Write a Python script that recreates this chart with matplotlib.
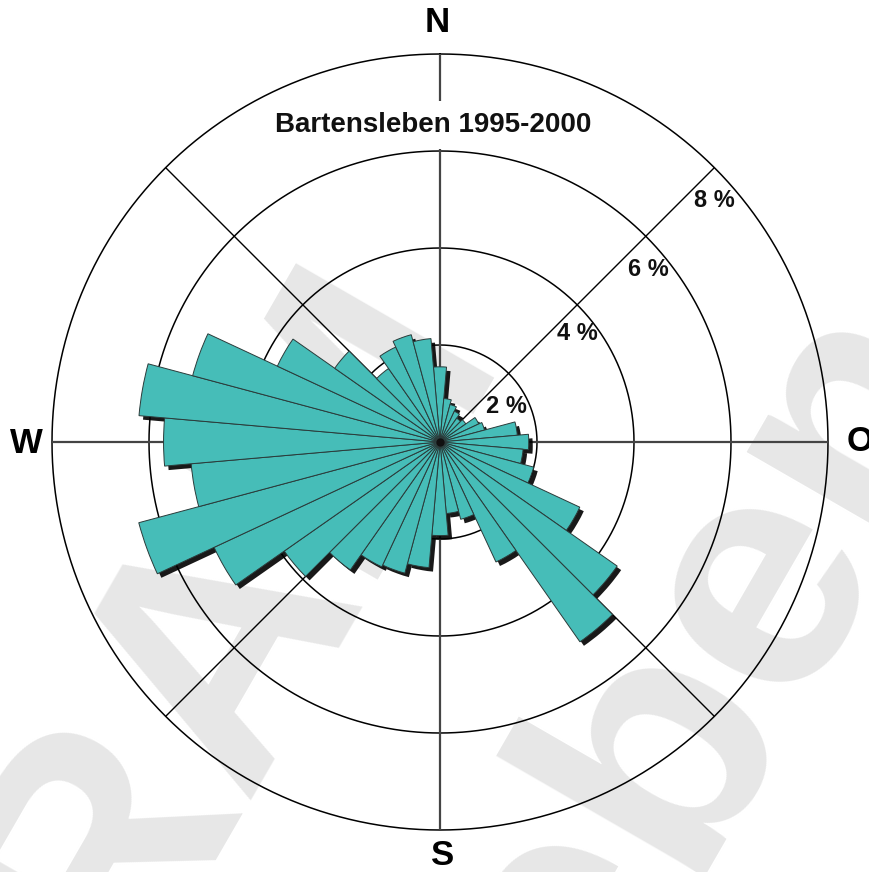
import numpy as np
import matplotlib
matplotlib.use("Agg")
import matplotlib.pyplot as plt
from matplotlib.transforms import ScaledTranslation

# ---- data (percent frequency per 10-degree sector, clockwise from north) ----
directions_deg = [0, 10, 20, 30, 40, 50, 60, 70, 80, 90, 100, 110,
                  120, 130, 140, 150, 160, 170, 180, 190, 200, 210, 220, 230,
                  240, 250, 260, 270, 280, 290, 300, 310, 320, 330, 340, 350]
frequency_pct = [1.55, 0.90, 0.80, 0.70, 0.60, 0.65, 0.88, 0.95, 1.60, 1.83, 1.72, 2.00,
                 3.18, 4.46, 5.03, 2.73, 1.65, 1.48, 1.93, 2.60, 2.80, 2.84, 3.22, 3.92,
                 5.14, 6.43, 5.15, 5.70, 6.23, 5.28, 3.70, 2.65, 1.85, 2.16, 2.29, 2.14]
ring_values = [2, 4, 6, 8]
ring_labels = ["2 %", "4 %", "6 %", "8 %"]
compass_labels = ["N", "O", "S", "W"]
title = "Bartensleben 1995-2000"

W, H = 870, 872
fig = plt.figure(figsize=(W / 100, H / 100), dpi=100)
fig.patch.set_facecolor("white")

# ---- watermark (light gray, behind everything) ----
wm = dict(color="#e7e7e7", fontsize=240, fontweight="bold", family="Liberation Sans",
          rotation=60, rotation_mode="anchor", ha="center", va="center", zorder=-5)
fig.text(175 / W, 1 - 720 / H, "ERAM", **wm)
wm2 = dict(wm); wm2["ha"] = "right"
fig.text(905 / W, 1 - 320 / H, "Morsleben", **wm2)

# ---- polar axes ----
cx, cy, R = 440, 442, 388
ax = fig.add_axes([(cx - R) / W, (H - cy - R) / H, 2 * R / W, 2 * R / H], projection="polar")
ax.patch.set_alpha(0)
ax.set_theta_zero_location("N")
ax.set_theta_direction(-1)
ax.set_ylim(0, ring_values[-1])
ax.set_xticks([]); ax.set_yticks([])
ax.grid(False)
ax.spines["polar"].set_visible(False)

# rings
th = np.linspace(0, 2 * np.pi, 721)
for rv in ring_values:
    ax.plot(th, np.full_like(th, rv), color="black", lw=1.1, zorder=1, clip_on=False)
# radial lines
for a in [0, 90, 180, 270]:
    ax.plot([np.deg2rad(a)] * 2, [0, ring_values[-1]], color="#444444", lw=1.6, zorder=1)
for a in [45, 135, 225, 315]:
    ax.plot([np.deg2rad(a)] * 2, [0, ring_values[-1]], color="black", lw=1.0, zorder=1)

theta = np.deg2rad(directions_deg)
width = np.deg2rad(10)
# drop shadow
shadow = ax.bar(theta, frequency_pct, width=width, color="black", edgecolor="none", zorder=2)
off = ScaledTranslation(4 / 100, -4 / 100, fig.dpi_scale_trans)
for p in shadow:
    p.set_transform(ax.transData + off)
    p.set_alpha(0.9)
bars = ax.bar(theta, frequency_pct, width=width, color="#46bdb8", edgecolor="#2b3b3a",
              linewidth=0.7, zorder=3)
ax.plot([0], [0], marker="o", color="#111111", ms=5, zorder=4)

# ring labels (placed along the NE diagonal)
label_pos = [(62, 1.56), (51.7, 3.6), (50.4, 5.57), (48.7, 7.53)]
for (ang, rr), lab in zip(label_pos, ring_labels):
    ax.text(np.deg2rad(ang), rr, lab, ha="center", va="center", fontsize=17,
            fontweight="bold", family="Liberation Sans", color="#111111", zorder=5)

# compass labels
cpos = {"N": (437, 22), "O": (860, 441), "S": (443, 855), "W": (26, 443)}
for lab in compass_labels:
    x, y = cpos[lab]
    fig.text(x / W, 1 - y / H, lab, ha="center", va="center", fontsize=25,
             fontweight="bold", family="Liberation Sans", color="black", zorder=6)

# title with white box
fig.text(433 / W, 1 - 125 / H, title, ha="center", va="center", fontsize=20,
         fontweight="bold", family="Liberation Sans", color="#111111", zorder=6,
         bbox=dict(facecolor="white", edgecolor="none", pad=8))

fig.savefig("out.png", dpi=100, facecolor="white")
